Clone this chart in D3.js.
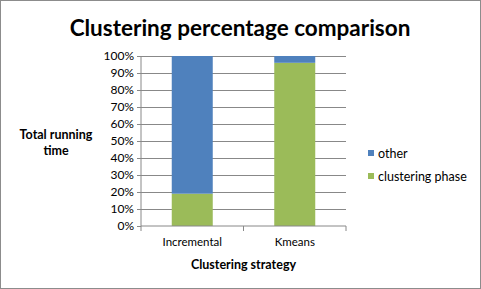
<!DOCTYPE html>
<html>
<head>
<meta charset="utf-8">
<script src="https://cdn.jsdelivr.net/npm/d3@7"></script>
<style>
  body { margin: 0; background: #fff; }
  text { font-family: Lato, "Open Sans", sans-serif; }
</style>
</head>
<body>
<div class="chart"></div>
<script>
// values (share of total running time)
const categories = ['Incremental', 'Kmeans'];
const clusteringPhase = [0.19, 0.96];
const other = [0.81, 0.04];
const seriesNames = ['clustering phase', 'other'];
const yTicks = [0, 0.1, 0.2, 0.3, 0.4, 0.5, 0.6, 0.7, 0.8, 0.9, 1];

const W = 481, H = 289;
const margin = {top: 56, left: 141, right: 135, bottom: 63};
const width = W - margin.left - margin.right;
const height = H - margin.top - margin.bottom;

const svg = d3.select('.chart')
  .append('svg')
  .attr('width', W)
  .attr('height', H);

// outer border
svg.append('rect')
  .attr('x', 0.5).attr('y', 0.5)
  .attr('width', W - 1).attr('height', H - 1)
  .attr('fill', 'none').attr('stroke', '#8c8c8c');

svg.append('text')
  .attr('x', 240).attr('y', 36)
  .attr('text-anchor', 'middle')
  .attr('font-size', 22.5).attr('font-weight', 'bold')
  .text('Clustering percentage comparison');

const g = svg.append('g')
  .attr('transform', `translate(${margin.left},${margin.top})`);

const x = d3.scaleBand().domain(categories).range([0, width]).paddingInner(0.6).paddingOuter(0.3);
const xOuter = d3.scaleBand().domain(categories).range([0, width]);
const y = d3.scaleLinear().domain([0, 1]).range([height, 0]);

// gridlines
g.append('g')
  .selectAll('line')
  .data(yTicks.slice(1))
  .enter().append('line')
  .attr('x1', 0).attr('x2', width)
  .attr('y1', d => y(d)).attr('y2', d => y(d))
  .attr('stroke', '#888').attr('stroke-width', 1)
  .attr('shape-rendering', 'crispEdges');

// y axis
const yAxis = d3.axisLeft(y).tickValues(yTicks).tickFormat(d3.format('.0%')).tickSize(4).tickPadding(3);
g.append('g').attr('class', 'y-axis').call(yAxis)
  .call(a => a.select('.domain').attr('stroke', '#888').attr('d', `M0,0V${height}`))
  .call(a => a.selectAll('.tick line').attr('stroke', '#888'))
  .call(a => a.selectAll('text').attr('font-size', 12).attr('fill', '#000').attr('font-family', 'Lato, sans-serif'));

// stacked bars
const stackData = categories.map((c, i) => ({cat: c, 'clustering phase': clusteringPhase[i], other: other[i]}));
const stacked = d3.stack().keys(seriesNames)(stackData);
const colors = {'clustering phase': '#9BBB59', other: '#4F81BD'};

g.selectAll('.series')
  .data(stacked)
  .enter().append('g')
  .attr('fill', d => colors[d.key])
  .selectAll('rect')
  .data(d => d)
  .enter().append('rect')
  .attr('x', d => x(d.data.cat))
  .attr('width', x.bandwidth())
  .attr('y', d => y(d[1]))
  .attr('height', d => y(d[0]) - y(d[1]));

// x axis
const xAxis = d3.axisBottom(xOuter).tickSize(0).tickPadding(12);
const xg = g.append('g').attr('class', 'x-axis')
  .attr('transform', `translate(0,${height})`)
  .call(xAxis);
xg.select('.domain').attr('stroke', '#888').attr('d', `M0,0H${width}`);
xg.selectAll('text').attr('font-size', 11.5).attr('fill', '#000').attr('font-family', 'Lato, sans-serif');
xg.selectAll('.sep')
  .data([0, xOuter.step(), width])
  .enter().append('line')
  .attr('x1', d => d).attr('x2', d => d)
  .attr('y1', 0).attr('y2', 5)
  .attr('stroke', '#888');

// axis titles
svg.append('text')
  .attr('x', margin.left + width / 2).attr('y', 269)
  .attr('text-anchor', 'middle')
  .attr('font-size', 12.5).attr('font-weight', 'bold')
  .text('Clustering strategy');

const yt = svg.append('text')
  .attr('text-anchor', 'middle')
  .attr('font-size', 12.5).attr('font-weight', 'bold');
yt.append('tspan').attr('x', 56).attr('y', 139).text('Total running');
yt.append('tspan').attr('x', 56).attr('y', 155).text('time');

// legend
const legendItems = ['other', 'clustering phase'];
const legend = svg.append('g').attr('transform', 'translate(368,150)');
legendItems.forEach((k, i) => {
  const row = legend.append('g').attr('transform', `translate(0,${i * 23})`);
  row.append('rect').attr('width', 6).attr('height', 6).attr('fill', colors[k]);
  row.append('text').attr('x', 10).attr('y', 7.5).attr('font-size', 12.5).text(k);
});
</script>
</body>
</html>
